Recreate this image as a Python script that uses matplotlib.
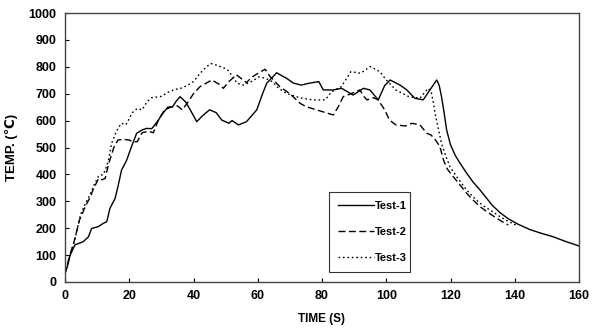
import matplotlib
matplotlib.use("Agg")
import matplotlib.pyplot as plt

# ---- data ----
t1 = [0, 0.8, 1.6, 3.1, 5.7, 7.3, 8.3, 10.4, 11.9, 13.0, 14.0, 15.6, 16.6, 17.6, 19.2, 20.7, 22.3, 24.0,
      25.4, 27.0, 29.0, 30.0, 32.0, 33.5, 34.5, 35.8, 37.5, 39.0, 41.0, 43.0, 45.0, 47.0, 48.8, 51.0,
      52.0, 54.0, 56.5, 59.7, 61.5, 62.8, 65.9, 67.0, 69.0, 71.0, 73.5, 76.0, 79.0, 80.4, 83.5, 86.1,
      89.7, 92.9, 94.9, 97.5, 99.5, 101.2, 104.3, 106.4, 108.9, 111.5, 113.6, 115.7, 116.5, 117.2,
      118.0, 118.8, 120.0, 121.5, 123.0, 125.0, 127.0, 129.2, 131.0, 133.0, 135.4, 138.0, 141.0,
      144.7, 148.0, 152.0, 156.0, 160.0]
v1 = [32, 60, 100, 138, 150, 168, 199, 206, 218, 224, 274, 311, 361, 416, 453, 503, 553, 565,
      571, 570, 600, 620, 650, 652, 670, 689, 670, 640, 596, 620, 640, 630, 602, 590,
      600, 584, 596, 640, 700, 739, 778, 770, 757, 740, 732, 739, 745, 714, 714, 720,
      695, 720, 714, 677, 730, 751, 732, 714, 683, 677, 714, 751, 730, 689,
      630, 565, 510, 470, 441, 405, 372, 342, 315, 285, 258, 235, 215,
      195, 182, 168, 150, 134]

t2 = [0, 1.5, 2.7, 4.5, 6.3, 7.9, 8.9, 10.5, 11.5, 12.5, 13.6, 15.2, 16.5, 18.0, 20.0, 21.2, 22.5,
      24.0, 26.0, 27.5, 29.0, 31.0, 33.0, 35.0, 36.5, 38.0, 40.0, 42.0, 45.7, 48.0, 49.3, 51.0, 53.4,
      56.5, 58.0, 59.7, 62.3, 63.8, 66.9, 70.0, 73.2, 75.0, 78.3, 81.0, 83.5, 85.0, 86.6, 89.0, 91.8,
      93.0, 94.0, 96.0, 97.5, 99.5, 101.0, 103.0, 106.0, 108.0, 110.5, 112.6, 114.0, 115.5, 116.7,
      117.8, 119.0, 120.9, 123.0, 125.0, 127.0, 129.2, 131.5, 134.0, 136.0, 138.0]
v2 = [30, 100, 144, 230, 280, 317, 348, 385, 380, 385, 440, 500, 528, 530, 528, 520, 522,
      555, 560, 555, 600, 640, 650, 655, 640, 664, 700, 726, 751, 735, 720, 745, 770,
      741, 760, 773, 791, 764, 726, 700, 664, 652, 640, 630, 621, 650, 689, 700, 714,
      690, 677, 685, 677, 640, 602, 584, 580, 590, 584, 553, 546, 525, 503,
      454, 420, 391, 360, 330, 305, 280, 260, 240, 225, 212]

t3 = [0, 1.5, 2.9, 4.8, 6.3, 8.0, 9.0, 10.5, 12.0, 13.5, 14.5, 16.0, 17.5, 19.0, 21.0, 22.5, 24.0,
      25.5, 27.0, 30.0, 32.0, 34.0, 36.0, 38.0, 40.0, 42.0, 44.0, 45.5, 47.5, 50.5, 52.5, 53.5, 55.5,
      58.0, 60.5, 62.5, 64.5, 66.5, 69.0, 72.0, 74.0, 77.0, 81.0, 83.0, 86.0, 89.0, 92.0, 95.0, 98.0,
      100.0, 103.0, 107.0, 110.5, 113.0, 114.0, 114.6, 115.2, 116.2, 117.2, 118.5, 119.8, 122.0,
      125.0, 128.0, 130.0, 132.3, 135.4, 138.0, 141.0]
v3 = [30, 100, 150, 250, 290, 330, 360, 395, 400, 450, 515, 560, 590, 585, 630, 645, 640,
      670, 685, 690, 705, 715, 720, 730, 745, 775, 800, 812, 805, 790, 760, 739, 732,
      745, 763, 757, 745, 720, 701, 689, 683, 677, 677, 707, 726, 782, 776, 801, 782,
      751, 714, 689, 683, 720, 707, 670, 627, 570, 515, 470, 429, 390,
      342, 305, 285, 268, 243, 225, 208]

series_labels = ["Test-1", "Test-2", "Test-3"]
x_ticks = [0, 20, 40, 60, 80, 100, 120, 140, 160]
y_ticks = [0, 100, 200, 300, 400, 500, 600, 700, 800, 900, 1000]

plt.rcParams['font.family'] = ['Liberation Sans', 'DejaVu Sans']

fig = plt.figure(figsize=(6.0, 3.35), dpi=100)
ax = fig.add_axes([65/600, 53/335, 514/600, 269/335])

ax.plot(t1, v1, color='black', lw=1.0, linestyle='-', label=series_labels[0])
ax.plot(t2, v2, color='black', lw=1.0, linestyle=(0, (5, 2.5)), label=series_labels[1])
ax.plot(t3, v3, color='black', lw=1.0, linestyle=(0, (1.2, 2)), label=series_labels[2])

ax.set_xlim(0, 160)
ax.set_ylim(0, 1000)
ax.set_xticks(x_ticks)
ax.set_yticks(y_ticks)
ax.tick_params(direction='in', length=3, width=0.8, labelsize=9, pad=6)
for lab in ax.get_xticklabels() + ax.get_yticklabels():
    lab.set_fontweight('bold')
for sp in ax.spines.values():
    sp.set_color('#444444')
    sp.set_linewidth(1.0)

ax.set_xlabel("TIME (S)", fontsize=8.5, fontweight='bold', labelpad=8)
ax.set_ylabel("TEMP. (\u2103)", fontsize=9.5, fontweight='bold', labelpad=8)

leg = ax.legend(loc='lower left', bbox_to_anchor=(0.514, 0.037, 0.157, 0.309), mode='expand',
                fontsize=8, frameon=True, fancybox=False, handlelength=3.2, handletextpad=0.1,
                labelspacing=1.45, borderpad=0.8, borderaxespad=0)
leg.get_frame().set_edgecolor('black')
leg.get_frame().set_linewidth(0.8)
for txt in leg.get_texts():
    txt.set_fontweight('bold')

fig.savefig("out.png", dpi=100)
